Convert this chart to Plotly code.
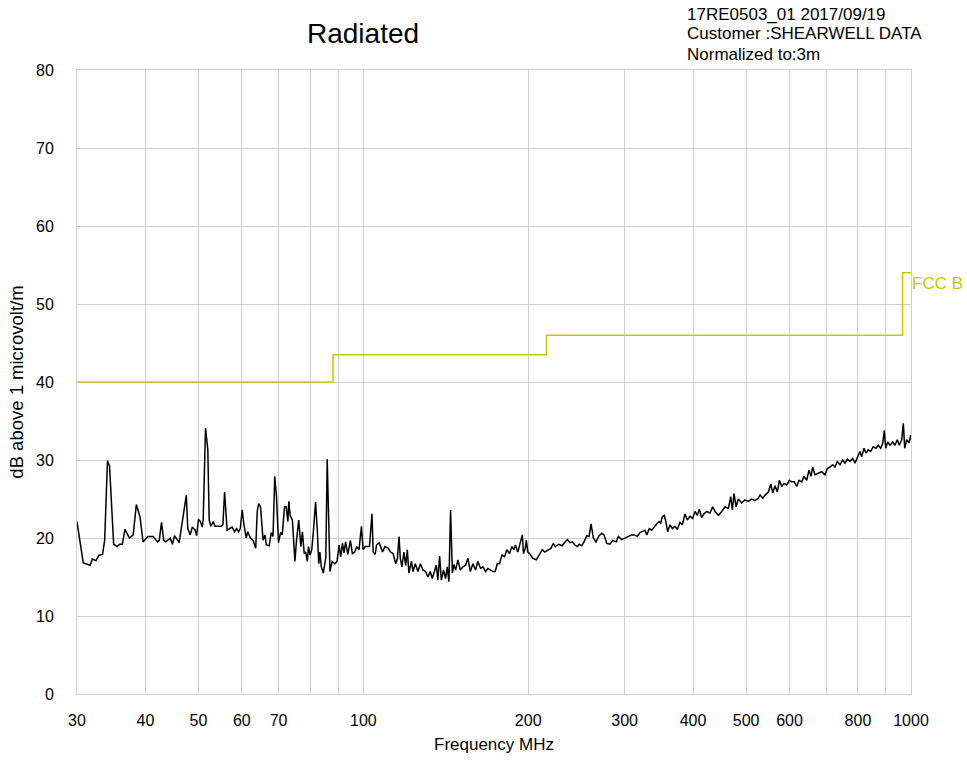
import plotly.graph_objects as go
import numpy as np

# ---- data ----
freq_mhz = [
    30.0, 30.8, 31.7, 32.0, 32.5, 32.9, 33.4, 33.7, 34.1, 34.4, 35.0, 35.5, 35.9, 36.3, 36.7, 37.4,
    38.0, 38.5, 39.1, 39.6, 40.4, 41.3, 42.1, 42.4, 42.8, 43.2, 43.6, 44.4, 44.8, 45.2, 46.1, 47.0,
    47.5, 47.8, 48.3, 48.7, 49.3, 49.6, 50.0, 50.4, 50.8, 51.0, 51.5, 52.0, 52.3, 52.7, 53.2, 53.6,
    55.0, 55.4, 55.8, 56.4, 56.8, 57.6, 58.2, 58.7, 59.2, 59.6, 60.1, 60.5, 61.1, 61.5, 62.2, 62.9,
    63.6, 64.0, 64.4, 64.9, 65.6, 66.1, 66.5, 67.3, 67.9, 68.4, 68.9, 69.4, 70.0, 70.6, 71.1, 71.8,
    72.3, 72.8, 73.1, 73.5, 74.2, 75.0, 75.5, 76.2, 76.9, 77.4, 78.0, 78.5, 79.0, 79.4, 79.9, 80.5,
    81.0, 81.8, 82.4, 82.9, 83.3, 83.8, 84.5, 85.1, 85.4, 85.9, 86.3, 86.9, 87.7, 88.7, 89.5, 90.3,
    90.9, 91.6, 92.2, 92.8, 93.7, 94.7, 95.5, 96.4, 97.3, 98.2, 99.2, 99.9, 100.8, 101.6, 102.6, 103.7,
    104.2, 105.1, 105.7, 106.9, 108.4, 109.5, 111.0, 112.1, 113.3, 114.6, 115.4, 116.2, 116.8, 117.6,
    118.6, 119.5, 120.3, 121.1, 122.4, 123.2, 124.4, 125.8, 127.1, 128.5, 129.9, 131.2, 132.5, 133.6,
    134.9, 135.9, 136.8, 137.8, 138.8, 140.1, 141.3, 142.3, 143.3, 144.3, 145.4, 146.3, 147.4, 148.8,
    150.3, 152.0, 153.7, 155.2, 156.8, 158.5, 160.3, 161.8, 163.7, 165.3, 167.2, 168.8, 170.5, 172.4,
    174.1, 175.6, 177.3, 179.1, 181.1, 182.8, 184.9, 186.7, 188.3, 189.6, 191.5, 193.4, 195.1, 196.1,
    197.6, 198.4, 199.7, 201.1, 204.0, 206.9, 209.8, 212.2, 214.3, 217.3, 220.2, 222.1, 224.2, 227.4,
    230.6, 232.9, 235.8, 238.5, 240.8, 243.5, 245.9, 248.0, 250.5, 252.9, 255.8, 258.3, 260.5, 263.0,
    266.0, 269.4, 272.5, 275.1, 278.3, 282.1, 285.4, 289.4, 292.2, 296.4, 300.5, 304.7, 309.0, 312.4,
    316.4, 320.0, 323.1, 326.8, 329.2, 332.8, 336.1, 339.8, 343.2, 346.6, 349.1, 351.4, 354.4, 357.0,
    359.5, 363.0, 366.6, 370.7, 374.3, 378.6, 382.3, 386.6, 390.4, 394.9, 399.3, 403.3, 407.2, 410.6,
    414.8, 418.8, 423.6, 429.6, 434.4, 438.7, 444.8, 451.2, 457.5, 464.0, 468.6, 471.8, 475.2, 479.3,
    483.8, 490.9, 497.7, 504.7, 511.9, 519.0, 526.3, 530.1, 536.1, 541.3, 548.9, 554.5, 559.2, 564.6,
    570.1, 574.9, 580.7, 586.4, 593.0, 599.6, 605.6, 612.3, 618.5, 624.5, 631.6, 637.7, 645.0, 651.2,
    656.7, 661.4, 667.9, 677.2, 686.9, 696.6, 703.4, 711.3, 719.4, 726.4, 733.5, 741.9, 750.3, 757.6,
    765.0, 773.7, 782.5, 790.1, 797.8, 806.9, 812.7, 820.6, 827.6, 835.6, 844.1, 853.3, 863.2, 871.6,
    880.3, 887.8, 893.8, 899.2, 906.7, 915.5, 925.9, 934.9, 944.0, 952.1, 961.6, 968.3, 973.9, 982.2,
    991.8, 998.9, 1000.0,
]
level_dbuv = [
    22.1, 16.8, 16.5, 17.3, 17.1, 17.8, 17.9, 19.7, 29.9, 29.2, 19.2, 18.9, 19.2, 19.2, 21.1, 20.0,
    20.4, 24.3, 22.7, 19.5, 20.2, 20.2, 19.5, 19.7, 22.0, 19.7, 19.5, 20.0, 19.2, 20.3, 19.4, 23.8,
    25.5, 21.2, 20.4, 21.4, 21.0, 20.3, 22.4, 22.1, 21.4, 22.4, 34.1, 31.3, 22.3, 21.5, 22.1, 21.5,
    21.5, 21.7, 25.9, 21.0, 21.1, 21.4, 20.8, 21.2, 20.8, 21.2, 23.6, 21.8, 20.0, 20.8, 20.0, 19.7,
    18.7, 23.4, 24.4, 24.0, 19.7, 20.4, 19.1, 19.0, 20.7, 20.2, 27.9, 25.3, 19.4, 20.7, 20.4, 24.0,
    24.0, 22.1, 24.7, 22.9, 22.3, 17.0, 19.7, 22.3, 18.9, 20.8, 18.0, 18.2, 17.0, 18.9, 17.8, 18.5,
    20.6, 24.6, 21.0, 16.7, 18.2, 16.3, 15.5, 17.2, 17.5, 30.1, 22.3, 15.7, 17.0, 16.7, 17.0, 19.1,
    17.6, 19.3, 18.1, 19.5, 17.9, 19.7, 18.0, 18.2, 18.9, 18.5, 21.5, 18.5, 18.9, 18.9, 18.9, 23.1,
    18.2, 17.9, 19.1, 19.4, 18.2, 18.9, 18.7, 18.2, 18.0, 16.7, 17.4, 20.2, 17.4, 16.3,
    18.2, 16.5, 18.5, 15.5, 17.0, 15.7, 16.7, 15.7, 16.7, 15.9, 15.7, 15.0, 15.7, 14.8,
    15.7, 16.5, 14.6, 17.7, 14.6, 15.9, 14.8, 16.3, 14.4, 23.6, 15.5, 16.6, 15.9, 17.2,
    15.9, 16.3, 16.5, 17.4, 15.7, 16.7, 15.9, 17.0, 16.1, 16.3, 15.7, 16.1, 15.9, 15.7,
    15.7, 16.7, 16.7, 17.8, 17.6, 18.5, 18.0, 18.9, 18.5, 19.1, 18.2, 19.2, 20.4, 18.0,
    18.7, 19.7, 18.2, 18.0, 17.4, 17.2, 18.0, 18.5, 18.2, 18.5, 18.7, 19.3, 18.9, 19.2,
    19.0, 19.4, 19.8, 19.4, 19.5, 19.1, 18.9, 19.2, 19.0, 19.5, 20.3, 20.2, 21.8, 20.0,
    19.5, 20.3, 20.6, 20.4, 19.3, 19.2, 19.7, 19.5, 20.2, 19.8, 20.0, 20.3, 20.4, 20.4,
    20.2, 20.7, 20.8, 21.0, 20.4, 21.2, 21.0, 21.5, 21.8, 22.1, 21.9, 22.7, 22.9, 22.0,
    20.8, 21.7, 21.2, 21.5, 21.1, 22.0, 21.7, 23.1, 22.3, 22.8, 22.5, 23.4, 22.9, 23.7,
    22.6, 23.1, 23.4, 23.2, 24.0, 23.4, 22.9, 23.4, 24.0, 23.8, 25.3, 23.6, 25.7, 24.0,
    25.0, 24.5, 24.9, 24.7, 25.0, 24.8, 25.1, 25.5, 25.1, 25.5, 25.9, 26.9, 25.8, 26.7,
    25.9, 27.4, 26.6, 27.0, 26.8, 27.4, 27.2, 27.2, 26.6, 27.4, 27.2, 27.9, 27.4, 28.7,
    27.9, 29.1, 28.1, 28.3, 28.5, 28.1, 28.9, 29.1, 29.4, 29.1, 29.8, 29.4, 30.0, 29.6,
    30.1, 29.8, 30.2, 29.6, 30.4, 31.1, 30.4, 31.5, 30.9, 31.3, 31.1, 31.7, 31.5, 31.9,
    31.5, 32.1, 33.8, 31.5, 32.3, 31.9, 32.3, 31.9, 32.6, 31.9, 32.6, 34.7, 31.5, 32.6,
    32.2, 33.2, 32.6,
]

limit_freq = [30, 88, 216, 965, 1000]
limit_level = [40, 43.5, 46, 54, 54]
limit_name = "FCC B"

x_tickvals = [30, 40, 50, 60, 70, 80, 90, 100, 200, 300, 400, 500, 600, 700, 800, 900, 1000]
x_ticktext = ["30", "40", "50", "60", "70", "", "", "100", "200", "300", "400", "500", "600", "", "800", "", "1000"]
y_tickvals = [0, 10, 20, 30, 40, 50, 60, 70, 80]

title_text = "Radiated"
info_lines = ["17RE0503_01 2017/09/19", "Customer :SHEARWELL DATA", "Normalized to:3m"]
x_title = "Frequency MHz"
y_title = "dB above 1 microvolt/m"

FONT = "Liberation Sans, Arial, sans-serif"
YELLOW = "#c8c800"
GRID = "#d0d0d0"

fig = go.Figure()
fig.add_trace(go.Scatter(x=limit_freq, y=limit_level, mode="lines", line=dict(color=YELLOW, width=1.5, shape="hv"),
                         hoverinfo="skip", showlegend=False))
fig.add_trace(go.Scatter(x=freq_mhz, y=level_dbuv, mode="lines", line=dict(color="black", width=1.5),
                         showlegend=False))

fig.add_annotation(x=np.log10(limit_freq[-1]), y=limit_level[-1], xref="x", yref="y", text=limit_name,
                   showarrow=False, xanchor="left", yanchor="top", font=dict(color=YELLOW, size=17, family=FONT),
                   xshift=-1, yshift=1)
fig.add_annotation(x=0.343, y=1.059, xref="paper", yref="paper", text=title_text, showarrow=False,
                   xanchor="center", yanchor="middle", font=dict(size=28, color="black", family=FONT))
# info block: one annotation per line, 20 px apart (plot bottom at 694 px, height 624 px)
for i, line in enumerate(info_lines):
    fig.add_annotation(x=0.729, y=(694 - 14 - 20 * i) / 624, xref="paper", yref="paper",
                       text=line, showarrow=False, xanchor="left", yanchor="middle", align="left",
                       font=dict(size=17, color="black", family=FONT))

fig.update_layout(
    width=967, height=761,
    margin=dict(l=77, r=56, t=70, b=67),
    paper_bgcolor="white", plot_bgcolor="white",
    font=dict(family=FONT, color="black", size=16),
    xaxis=dict(type="log", range=[np.log10(30), np.log10(1000)], tickvals=x_tickvals, ticktext=x_ticktext,
               showgrid=True, gridcolor=GRID, gridwidth=1, showline=True, linecolor=GRID, mirror=True,
               zeroline=False, ticks="", ticklabelstandoff=12,
               title=dict(text=x_title, font=dict(size=17), standoff=9)),
    yaxis=dict(range=[0, 80], tickvals=y_tickvals, showgrid=True, gridcolor=GRID, gridwidth=1,
               showline=True, linecolor=GRID, mirror=True, zeroline=False, ticks="", ticklabelstandoff=19,
               title=dict(text=y_title, font=dict(size=18.5), standoff=7)),
)

fig.write_html("out.html", config={"displayModeBar": False},
               post_script="document.body.style.margin='0';document.body.style.overflow='hidden';")
